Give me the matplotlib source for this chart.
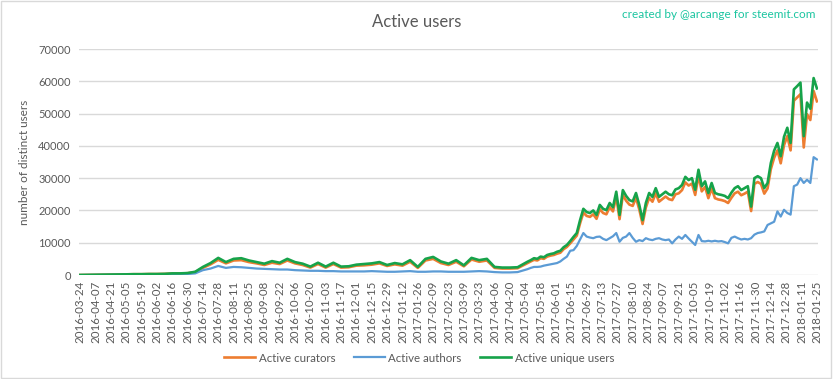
import matplotlib
matplotlib.use("Agg")
import matplotlib.pyplot as plt
import numpy as np
import pandas as pd
from matplotlib.patches import Rectangle

plt.rcParams['font.family'] = ['Lato', 'DejaVu Sans']

# ---- data ----
early_dates = pd.date_range('2016-03-24', '2017-04-27', freq='7D')
late_dates = pd.date_range('2017-05-06', '2018-01-25', freq='3D')

early_unique = [0, 30, 50, 80, 100, 150, 200, 250, 250, 300, 300, 350, 500, 500, 600, 1000,
                2500, 3700, 5300, 4000, 5000, 5200, 4500, 4000, 3500, 4300, 3800, 5000, 4000,
                3500, 2600, 3800, 2600, 3800, 2600, 2700, 3200, 3400, 3600, 4000, 3100, 3700,
                3300, 4600, 2500, 5000, 5600, 4200, 3500, 4600, 3000, 5300, 4600, 5000, 2500,
                2300, 2300, 2400]
early_curators = [0, 30, 50, 80, 100, 150, 200, 250, 250, 300, 300, 350, 450, 450, 550, 900,
                  2200, 3300, 4700, 3600, 4500, 4600, 4000, 3600, 3100, 3800, 3400, 4500, 3600,
                  3100, 2300, 3400, 2300, 3400, 2300, 2400, 2900, 3000, 3200, 3600, 2800, 3300,
                  2900, 4100, 2200, 4500, 5000, 3700, 3100, 4100, 2700, 4800, 4100, 4500, 2200,
                  2000, 2000, 2100]
early_authors = [0, 20, 30, 50, 60, 80, 100, 120, 130, 150, 150, 180, 250, 250, 300, 500,
                 1500, 2000, 2800, 2200, 2500, 2400, 2200, 2000, 1900, 1800, 1700, 1700, 1500,
                 1400, 1300, 1300, 1200, 1200, 1100, 1100, 1100, 1100, 1200, 1100, 1000, 1000,
                 1100, 1200, 1000, 1000, 1100, 1100, 1000, 1000, 1000, 1100, 1200, 1100, 900,
                 800, 800, 900]

late_unique = [4100, 4600, 5200, 5000, 5700, 5500, 6200, 6500, 6700, 7200,
               7500, 8600, 9300, 10500, 11800, 13000, 17000, 20500, 19500, 19200,
               20000, 18600, 21700, 20500, 20100, 22300, 21000, 25800, 18600, 26300,
               24500, 23200, 22800, 25400, 21700, 17000, 22300, 25400, 24200, 26900,
               24200, 25000, 25800, 25000, 24700, 26500, 26900, 27900, 30400, 29400,
               30000, 26400, 32600, 27500, 29000, 25400, 28500, 25400, 25000, 24800,
               24500, 23800, 25500, 26900, 27500, 26300, 26900, 27500, 21200, 30000,
               30600, 30000, 26900, 28500, 34700, 38500, 40900, 36800, 42800, 45600,
               40900, 57500, 58500, 59600, 43000, 53400, 51500, 61000, 57800]
late_curators = [3700, 4200, 4700, 4500, 5200, 5000, 5700, 6000, 6200, 6600,
                 6900, 8000, 8700, 9800, 11000, 12200, 16000, 19300, 18300, 18000,
                 18800, 17400, 20400, 19200, 18800, 21000, 19700, 24300, 17300, 24800,
                 23000, 21800, 21400, 23900, 20300, 15800, 20900, 23900, 22700, 25300,
                 22700, 23500, 24300, 23500, 23200, 25000, 25300, 26300, 28700, 27700,
                 28300, 24800, 30800, 25900, 27300, 23800, 26800, 23800, 23400, 23200,
                 22900, 22300, 23900, 25300, 25800, 24700, 25200, 25800, 19800, 28200,
                 28800, 28200, 25200, 26800, 32800, 36300, 38600, 34600, 40200, 43000,
                 38600, 54000, 55000, 56000, 39500, 49800, 48000, 57000, 53800]
late_authors = [1800, 2200, 2500, 2500, 2600, 2900, 3100, 3300, 3500, 3700,
                4200, 5000, 5700, 7500, 7700, 9000, 11000, 13000, 11900, 11600,
                11400, 11800, 11900, 11200, 10800, 11400, 12000, 13000, 10300, 11500,
                11900, 13000, 11500, 10300, 10800, 10500, 11400, 11000, 10800, 11200,
                11400, 11000, 10800, 11000, 9800, 11000, 11900, 11200, 12400, 11300,
                10300, 9300, 12400, 10500, 10400, 10600, 10400, 10600, 10400, 10500,
                10200, 9800, 11500, 11900, 11400, 11000, 11200, 11000, 11400, 12500,
                13000, 13200, 13500, 15500, 16000, 16500, 19700, 18100, 20200, 19200,
                18700, 27500, 28000, 30000, 28500, 29500, 28500, 36500, 35800]

dates = early_dates.append(late_dates)
curators = early_curators + late_curators
authors = early_authors + late_authors
unique = early_unique + late_unique

tick_dates = pd.date_range('2016-03-24', '2018-01-25', freq='14D')
y_ticks = [0, 10000, 20000, 30000, 40000, 50000, 60000, 70000]

title = "Active users"
credit = "created by @arcange for steemit.com"
y_label = "number of distinct users"
series_names = ["Active curators", "Active authors", "Active unique users"]
colors = ["#ED7D31", "#5B9BD5", "#16A34A"]

# ---- figure ----
W, H = 833, 379
fig = plt.figure(figsize=(W / 100, H / 100), dpi=100)
fig.patches.append(Rectangle((0.001, 0.003), 0.997, 0.995, transform=fig.transFigure,
                             fill=False, edgecolor="#D9D9D9", linewidth=1.0))

ax = fig.add_axes([79 / W, 1 - 275 / H, (818 - 79) / W, (275 - 49) / H])
ax.plot(dates, curators, color=colors[0], lw=1.9, label=series_names[0], zorder=3)
ax.plot(dates, authors, color=colors[1], lw=1.6, label=series_names[1], zorder=3)
ax.plot(dates, unique, color=colors[2], lw=1.9, label=series_names[2], zorder=4)

ax.set_ylim(0, 70000)
ax.set_yticks(y_ticks)
ax.set_yticklabels([str(v) for v in y_ticks], fontsize=8, color="#595959")
ax.set_xlim(tick_dates[0] - pd.Timedelta(days=1), tick_dates[-1] + pd.Timedelta(days=1))
ax.set_xticks(tick_dates)
ax.set_xticklabels([d.strftime('%Y-%m-%d') for d in tick_dates], rotation=90,
                   fontsize=8.3, color="#595959")
ax.tick_params(axis='both', length=0, pad=4)
ax.tick_params(axis='y', pad=6)
ax.grid(axis='y', color="#D9D9D9", lw=1.0)
ax.set_axisbelow(True)
for s in ax.spines.values():
    s.set_visible(False)

ax.set_ylabel(y_label, fontsize=8.5, color="#595959", labelpad=6)

fig.text(0.5, 1 - 22 / H, title, ha='center', va='center', fontsize=12, color="#595959")
fig.text(815 / W, 1 - 14 / H, credit, ha='right', va='center', fontsize=8.5, color="#1BC5A0")

leg = fig.legend(loc='center', bbox_to_anchor=(419 / W, 1 - 358 / H), ncol=3, frameon=False,
                 fontsize=8.3, handlelength=2.7, handletextpad=0.3, columnspacing=1.6)
for t in leg.get_texts():
    t.set_color("#595959")

fig.savefig("out.png", dpi=100)
